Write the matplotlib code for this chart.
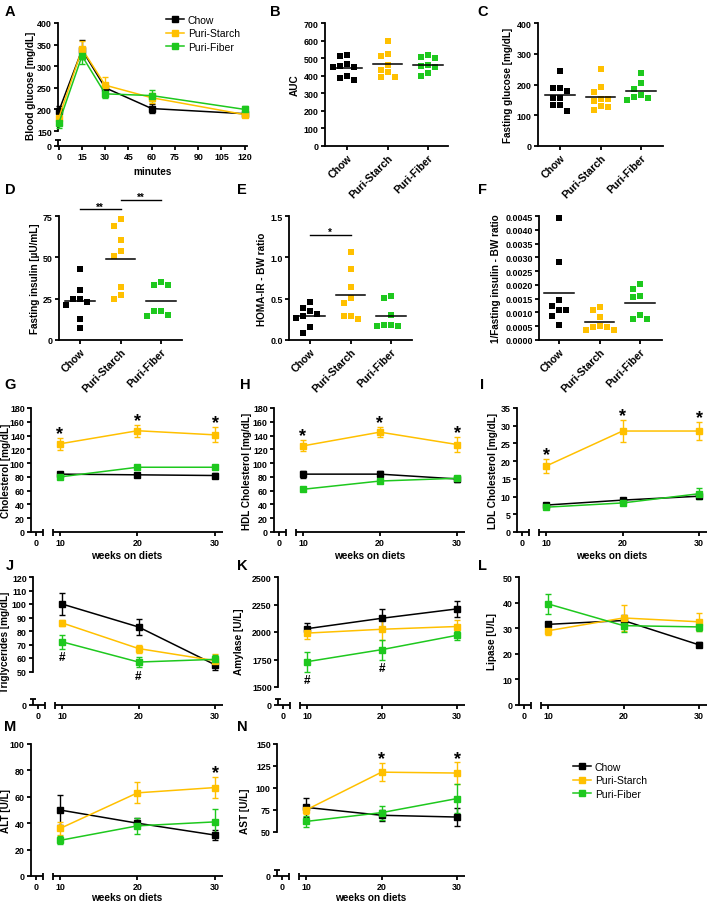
import numpy as np
import matplotlib
matplotlib.use("Agg")
import matplotlib.pyplot as plt
from matplotlib.lines import Line2D

plt.rcParams['font.family'] = ['Liberation Sans', 'DejaVu Sans']
plt.rcParams['font.weight'] = 'bold'

# ---------------- data ----------------
groups = ["Chow", "Puri-Starch", "Puri-Fiber"]
group_colors = ["#000000", "#FFC000", "#1EC81E"]

# A: glucose tolerance
ogtt_min = [0, 15, 30, 60, 120]
ogtt_chow = [196, 338, 250, 202, 190]
ogtt_chow_sem = [12, 22, 12, 10, 6]
ogtt_starch = [180, 340, 256, 227, 188]
ogtt_starch_sem = [14, 18, 18, 12, 6]
ogtt_fiber = [168, 324, 236, 232, 200]
ogtt_fiber_sem = [12, 18, 10, 12, 7]

# B: AUC
auc_chow = [514, 517, 466, 457, 447, 447, 400, 375, 386]
auc_starch = [595, 510, 523, 460, 422, 432, 390, 394]
auc_fiber = [517, 498, 504, 457, 447, 460, 400, 418]

# C: fasting glucose
fg_chow = [244, 188, 180, 188, 156, 156, 134, 134, 113]
fg_starch = [251, 191, 174, 153, 145, 153, 131, 127, 116]
fg_fiber = [237, 204, 185, 167, 159, 156, 148]

# D: fasting insulin
fi_chow = [43, 30, 25, 25, 23, 21, 13, 7]
fi_starch = [73, 69, 60.5, 54, 51, 32, 27, 25]
fi_fiber = [35, 33, 33, 17.5, 17.5, 14.5, 15]

# E: HOMA-IR - BW ratio
homa_chow = [0.46, 0.39, 0.35, 0.32, 0.29, 0.27, 0.16, 0.08]
homa_starch = [1.07, 0.86, 0.64, 0.51, 0.45, 0.29, 0.29, 0.26]
homa_fiber = [0.53, 0.51, 0.30, 0.18, 0.17, 0.18, 0.17]

# F: 1/fasting insulin - BW ratio
inv_chow = [0.00443, 0.00283, 0.00145, 0.00109, 0.00123, 0.00087, 0.00054, 0.0011]
inv_starch = [0.00109, 0.0012, 0.00083, 0.00051, 0.00047, 0.00047, 0.00036, 0.00035]
inv_fiber = [0.00205, 0.00185, 0.0016, 0.00156, 0.00091, 0.00076, 0.00076]

# G-N: time courses
weeks = [10, 20, 30]
chol_chow = [84, 83, 82]; chol_chow_sem = [3, 3, 3]
chol_starch = [128, 147, 141]; chol_starch_sem = [9, 9, 11]
chol_fiber = [80, 94, 94]; chol_fiber_sem = [2, 2, 2]
hdl_chow = [84, 84, 77]; hdl_chow_sem = [5, 5, 5]
hdl_starch = [125, 145, 127]; hdl_starch_sem = [8, 7, 11]
hdl_fiber = [62, 74, 78]; hdl_fiber_sem = [2, 2, 3]
ldl_chow = [7.6, 9.0, 10.1]; ldl_chow_sem = [0.4, 0.5, 0.6]
ldl_starch = [18.6, 28.5, 28.5]; ldl_starch_sem = [2, 3, 2.5]
ldl_fiber = [7.0, 8.2, 10.8]; ldl_fiber_sem = [0.4, 0.4, 1.5]
tg_chow = [100, 83, 55]; tg_chow_sem = [8, 6, 4]
tg_starch = [86, 67, 58]; tg_starch_sem = [2, 3, 5]
tg_fiber = [72, 57, 59]; tg_fiber_sem = [5, 4, 3]
amy_chow = [2030, 2125, 2210]; amy_chow_sem = [50, 80, 70]
amy_starch = [1990, 2025, 2050]; amy_starch_sem = [50, 100, 60]
amy_fiber = [1730, 1840, 1970]; amy_fiber_sem = [90, 90, 40]
lip_chow = [31.5, 33, 23.5]; lip_chow_sem = [1, 2, 1]
lip_starch = [29, 34, 32.5]; lip_starch_sem = [1.5, 5, 3.5]
lip_fiber = [39.5, 31, 30.5]; lip_fiber_sem = [4, 2.5, 1.5]
alt_chow = [50, 40, 31]; alt_chow_sem = [11, 4, 4]
alt_starch = [36, 63, 67]; alt_starch_sem = [5, 8, 8]
alt_fiber = [27, 38, 41]; alt_fiber_sem = [3, 6, 10]
ast_chow = [78, 69, 67]; ast_chow_sem = [11, 6, 10]
ast_starch = [75, 118, 117]; ast_starch_sem = [5, 10, 12]
ast_fiber = [62, 72, 88]; ast_fiber_sem = [6, 8, 16]

# significance marks (week positions)
chol_star = [10, 20, 30]
hdl_star = [10, 20, 30]
ldl_star = [10, 20, 30]
tg_hash = [10, 20]
amy_hash = [10, 20]
alt_star = [30]
ast_star = [20, 30]

# ---------------- figure ----------------
W, H = 708, 903
fig = plt.figure(figsize=(W / 100, H / 100), dpi=100)
AX_LW = 1.3
TICK_FS = 6.4
LAB_FS = 7.2


def px_axes(x0, y0, x1, y1):
    ax = fig.add_axes([x0 / W, 1 - y1 / H, (x1 - x0) / W, (y1 - y0) / H])
    ax.patch.set_alpha(0)
    for s in ("top", "right"):
        ax.spines[s].set_visible(False)
    for s in ("left", "bottom"):
        ax.spines[s].set_linewidth(AX_LW)
    ax.tick_params(direction="out", length=3, width=AX_LW, labelsize=TICK_FS, pad=1.5)
    ax._px = (x0, y0, x1, y1)
    return ax


def ylabel(ax, text, right_px):
    x0, y0, x1, y1 = ax._px
    ax.set_ylabel(text, fontsize=LAB_FS, fontweight='bold')
    ax.yaxis.set_label_coords((right_px - x0) / (x1 - x0), 0.5)


def xlabel(ax, text, top_px):
    x0, y0, x1, y1 = ax._px
    ax.set_xlabel(text, fontsize=LAB_FS, fontweight='bold')
    ax.xaxis.set_label_coords(0.5, (y1 - top_px) / (y1 - y0))


def letter(ch, x, y):
    fig.text(x / W, 1 - y / H, ch, fontsize=10.5, fontweight='bold', ha='center', va='center')


def y_break(ax, seg_lo, seg_hi, seg_lo_px, ticks, labels):
    x0, y0, x1, y1 = ax._px
    upp = (seg_hi - seg_lo) / (seg_lo_px - y0)
    vbot = seg_lo - (y1 - seg_lo_px) * upp
    ax.set_ylim(vbot, seg_hi)
    ax.spines['left'].set_bounds(seg_lo, seg_hi)
    ax.set_yticks([vbot] + list(ticks))
    ax.set_yticklabels(['0'] + list(labels))
    tr = ax.get_yaxis_transform()
    stub = 6 * upp
    ax.plot([0, 0], [vbot, vbot + stub], transform=tr, color='k', lw=AX_LW,
            clip_on=False, solid_capstyle='butt')
    hw = 3 / (x1 - x0)
    ax.plot([-hw, hw], [vbot + stub] * 2, transform=tr, color='k', lw=AX_LW,
            clip_on=False, solid_capstyle='butt')


def x_break(ax):
    x0, y0, x1, y1 = ax._px
    s = (x1 - 8 - (x0 + 29)) / 20.0
    xa = 7 / s
    xb = 10 - 7 / s
    ub = 17 / s
    xp = [-1000.0, xa, xb, 1000.0]
    up = [-1000.0, xa, ub, ub + 1000.0 - xb]
    fwd = lambda v: np.interp(v, xp, up)
    inv = lambda u: np.interp(u, up, xp)
    ax.set_xscale('function', functions=(fwd, inv))
    lo, hi = -5 / s, 30 + 8 / s
    ax.set_xlim(lo, hi)
    ax.set_xticks([0, 10, 20, 30])
    ax.set_xticklabels(['0', '10', '20', '30'])
    ax.spines['bottom'].set_visible(False)
    tr = ax.get_xaxis_transform()
    kw = dict(transform=tr, color='k', lw=AX_LW, clip_on=False, solid_capstyle='butt')
    ax.plot([lo, xa], [0, 0], **kw)
    ax.plot([xb, hi], [0, 0], **kw)
    cap = 3.5 / (y1 - y0)
    ax.plot([xa, xa], [-cap, cap], **kw)
    ax.plot([xb, xb], [-cap, cap], **kw)


def series(ax, x, vals, sems):
    for v, e, c in zip(vals, sems, group_colors):
        cont = ax.errorbar(x, v, yerr=e, color=c, marker='s', ms=3.9, lw=1.1,
                           elinewidth=1, capsize=2.5, capthick=1, zorder=3)
        for art in cont.get_children():
            art.set_clip_on(False)


def marks(ax, xs, x_all, vals, sems, sym='*', above=True):
    for xv in xs:
        i = list(x_all).index(xv)
        if above:
            ax.annotate(sym, (xv, vals[i] + sems[i]), xytext=(0, -3), textcoords='offset points',
                        ha='center', va='bottom', fontsize=13, fontweight='bold', annotation_clip=False)
        else:
            ax.annotate(sym, (xv, vals[i] - sems[i]), xytext=(0, -2), textcoords='offset points',
                        ha='center', va='top', fontsize=8.5, fontweight='bold', annotation_clip=False)


def swarm(vals, ppy, ppx, d=7.0):
    vals = np.asarray(vals, float)
    order = np.argsort(-vals)
    placed = []
    offs = np.zeros(len(vals))
    for idx in order:
        y = vals[idx] * ppy
        chosen = 0.0
        for k in [0, -1, 1, -2, 2, -3, 3]:
            xx = k * d
            if all((xx - px) ** 2 + (y - py) ** 2 >= (0.95 * d) ** 2 for px, py in placed):
                chosen = xx
                break
        placed.append((chosen, y))
        offs[idx] = chosen / ppx
    return offs


def dot_panel(ax, data, ylim, yticks, yticklabels, cat0_px, sp=40.5):
    x0, y0, x1, y1 = ax._px
    ax.set_xlim((x0 - cat0_px) / sp, (x1 - cat0_px) / sp)
    ax.set_ylim(*ylim)
    ax.set_yticks(yticks)
    ax.set_yticklabels(yticklabels)
    ppy = (y1 - y0) / (ylim[1] - ylim[0])
    for i, (vals, c) in enumerate(zip(data, group_colors)):
        offs = swarm(vals, ppy, sp)
        ax.scatter(i + offs, vals, marker='s', s=20, color=c, linewidths=0, clip_on=False, zorder=3)
        m = np.mean(vals)
        ax.plot([i - 0.36, i + 0.36], [m, m], color='k', lw=1.1, zorder=4)
    ax.set_xticks([0, 1, 2])
    ax.set_xticklabels(groups, rotation=45, ha='right', rotation_mode='anchor', fontsize=7.6)


def sig_bar(ax, i0, i1, y, txt):
    ax.plot([i0, i1], [y, y], color='k', lw=1, clip_on=False)
    ax.annotate(txt, ((i0 + i1) / 2, y), xytext=(0, -1.5), textcoords='offset points',
                ha='center', va='bottom', fontsize=7, fontweight='bold', annotation_clip=False)


# ---- A ----
axA = px_axes(58, 24, 247, 147)
axA.set_xlim(-0.5, 121.5)
axA.set_xticks(np.arange(0, 121, 15))
for v, e, c in zip([ogtt_chow, ogtt_starch, ogtt_fiber],
                   [ogtt_chow_sem, ogtt_starch_sem, ogtt_fiber_sem], group_colors):
    cont = axA.errorbar(ogtt_min, v, yerr=e, color=c, marker='s', ms=3.9, lw=1.1,
                        elinewidth=1, capsize=2.5, capthick=1, zorder=3)
    for art in cont.get_children():
        art.set_clip_on(False)
y_break(axA, 150, 400, 132, [150, 200, 250, 300, 350, 400],
        ['150', '200', '250', '300', '350', '400'])
ylabel(axA, 'Blood glucose [mg/dL]', 36)
xlabel(axA, 'minutes', 167)
handles = [Line2D([], [], color=c, marker='s', ms=3.9, lw=1.1) for c in group_colors]
fig.legend(handles, groups, loc='upper left', bbox_to_anchor=(166 / W, 1 - 16 / H),
           frameon=False, prop={'size': 7.5, 'weight': 'normal'}, handlelength=1.7,
           handletextpad=0.4, labelspacing=0.32, borderpad=0, borderaxespad=0)

# ---- B ----
axB = px_axes(325, 24, 448, 147)
dot_panel(axB, [auc_chow, auc_starch, auc_fiber], (0, 700), np.arange(0, 701, 100),
          [str(v) for v in range(0, 701, 100)], 347)
ylabel(axB, 'AUC', 300)

# ---- C ----
axC = px_axes(538, 24, 663, 147)
dot_panel(axC, [fg_chow, fg_starch, fg_fiber], (0, 400), [0, 100, 200, 300, 400],
          ['0', '100', '200', '300', '400'], 560)
ylabel(axC, 'Fasting glucose [mg/dL]', 513)

# ---- D ----
axD = px_axes(59, 217, 182, 341)
dot_panel(axD, [fi_chow, fi_starch, fi_fiber], (0, 75), [0, 25, 50, 75],
          ['0', '25', '50', '75'], 80)
ylabel(axD, 'Fasting insulin [µU/mL]', 40)
sig_bar(axD, 0, 1, 79, '**')
sig_bar(axD, 1, 2, 84.7, '**')

# ---- E ----
axE = px_axes(289, 217, 412, 341)
dot_panel(axE, [homa_chow, homa_starch, homa_fiber], (0, 1.5), [0, 0.5, 1.0, 1.5],
          ['0.0', '0.5', '1.0', '1.5'], 310)
ylabel(axE, 'HOMA-IR - BW ratio', 267)
sig_bar(axE, 0, 1, 1.27, '*')

# ---- F ----
axF = px_axes(539, 217, 662, 341)
fticks = np.arange(0, 0.00451, 0.0005)
dot_panel(axF, [inv_chow, inv_starch, inv_fiber], (0, 0.0045), fticks,
          ['%.4f' % v for v in fticks], 559)
ylabel(axF, '1/Fasting insulin - BW ratio', 501)

# ---- G ----
axG = px_axes(31, 409, 223, 533)
x_break(axG)
axG.set_ylim(0, 180)
axG.set_yticks(np.arange(0, 181, 20))
series(axG, weeks, [chol_chow, chol_starch, chol_fiber], [chol_chow_sem, chol_starch_sem, chol_fiber_sem])
marks(axG, chol_star, weeks, chol_starch, chol_starch_sem)
ylabel(axG, 'Cholesterol [mg/dL]', 11)
xlabel(axG, 'weeks on diets', 551)

# ---- H ----
axH = px_axes(274, 409, 465, 533)
x_break(axH)
axH.set_ylim(0, 180)
axH.set_yticks(np.arange(0, 181, 20))
series(axH, weeks, [hdl_chow, hdl_starch, hdl_fiber], [hdl_chow_sem, hdl_starch_sem, hdl_fiber_sem])
marks(axH, hdl_star, weeks, hdl_starch, hdl_starch_sem)
ylabel(axH, 'HDL Cholesterol [mg/dL]', 252)
xlabel(axH, 'weeks on diets', 551)

# ---- I ----
axI = px_axes(517, 409, 707, 533)
x_break(axI)
axI.set_ylim(0, 35)
axI.set_yticks(np.arange(0, 36, 5))
series(axI, weeks, [ldl_chow, ldl_starch, ldl_fiber], [ldl_chow_sem, ldl_starch_sem, ldl_fiber_sem])
marks(axI, ldl_star, weeks, ldl_starch, ldl_starch_sem)
ylabel(axI, 'LDL Cholesterol [mg/dL]', 498)
xlabel(axI, 'weeks on diets', 551)

# ---- J ----
axJ = px_axes(33, 578, 223, 706)
x_break(axJ)
y_break(axJ, 50, 120, 672.5, np.arange(50, 121, 10), [str(v) for v in range(50, 121, 10)])
series(axJ, weeks, [tg_chow, tg_starch, tg_fiber], [tg_chow_sem, tg_starch_sem, tg_fiber_sem])
marks(axJ, tg_hash, weeks, tg_fiber, tg_fiber_sem, sym='#', above=False)
ylabel(axJ, 'Triglycerides [mg/dL]', 10.5)

# ---- K ----
axK = px_axes(278, 578, 465, 706)
x_break(axK)
y_break(axK, 1500, 2500, 688, [1500, 1750, 2000, 2250, 2500], ['1500', '1750', '2000', '2250', '2500'])
series(axK, weeks, [amy_chow, amy_starch, amy_fiber], [amy_chow_sem, amy_starch_sem, amy_fiber_sem])
marks(axK, amy_hash, weeks, amy_fiber, amy_fiber_sem, sym='#', above=False)
ylabel(axK, 'Amylase [U/L]', 244)

# ---- L ----
axL = px_axes(519, 578, 707, 706)
x_break(axL)
axL.set_ylim(0, 50)
axL.set_yticks(np.arange(0, 51, 10))
series(axL, weeks, [lip_chow, lip_starch, lip_fiber], [lip_chow_sem, lip_starch_sem, lip_fiber_sem])
ylabel(axL, 'Lipase [U/L]', 497)

# ---- M ----
axM = px_axes(31, 745, 223, 877)
x_break(axM)
axM.set_ylim(0, 100)
axM.set_yticks(np.arange(0, 101, 20))
series(axM, weeks, [alt_chow, alt_starch, alt_fiber], [alt_chow_sem, alt_starch_sem, alt_fiber_sem])
marks(axM, alt_star, weeks, alt_starch, alt_starch_sem)
ylabel(axM, 'ALT [U/L]', 11)
xlabel(axM, 'weeks on diets', 893)

# ---- N ----
axN = px_axes(277, 745, 465, 877)
x_break(axN)
y_break(axN, 50, 150, 833, [50, 75, 100, 125, 150], ['50', '75', '100', '125', '150'])
series(axN, weeks, [ast_chow, ast_starch, ast_fiber], [ast_chow_sem, ast_starch_sem, ast_fiber_sem])
marks(axN, ast_star, weeks, ast_starch, ast_starch_sem)
ylabel(axN, 'AST [U/L]', 250)
xlabel(axN, 'weeks on diets', 893)

fig.legend(handles, groups, loc='upper left', bbox_to_anchor=(573 / W, 1 - 763 / H),
           frameon=False, prop={'size': 7.5, 'weight': 'normal'}, handlelength=1.7,
           handletextpad=0.4, labelspacing=0.32, borderpad=0, borderaxespad=0)

# panel letters
for ch, x, y in [('A', 10, 12), ('B', 275, 12), ('C', 483, 12),
                 ('D', 10, 190), ('E', 242, 190), ('F', 483, 190),
                 ('G', 10, 385), ('H', 245, 385), ('I', 482, 385),
                 ('J', 10, 566), ('K', 242, 566), ('L', 483, 566),
                 ('M', 10, 727), ('N', 242, 727)]:
    letter(ch, x, y)

fig.savefig('out.png', dpi=100)
